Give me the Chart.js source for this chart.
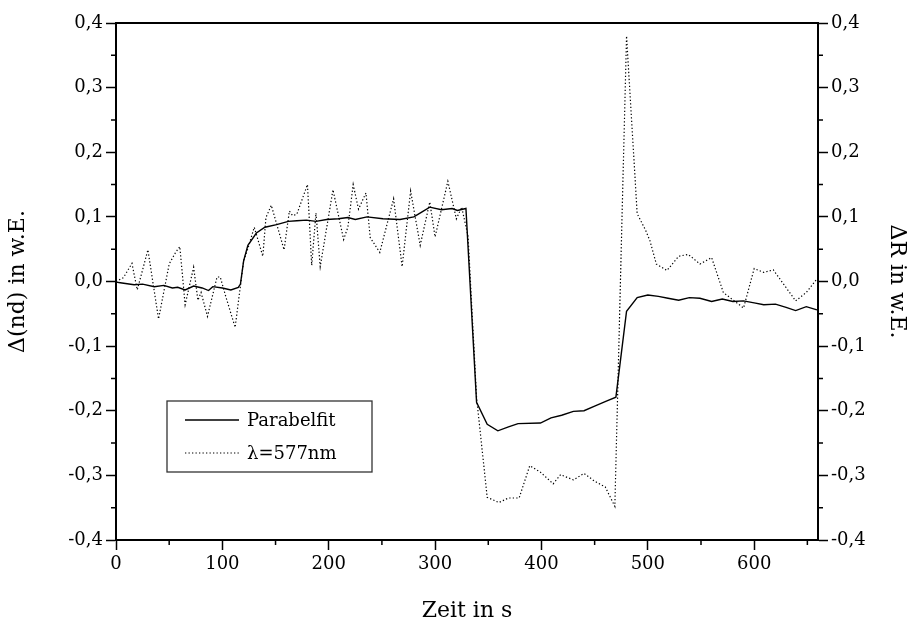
<!DOCTYPE html>
<html>
<head>
<meta charset="utf-8">
<script src="https://cdn.jsdelivr.net/npm/chart.js@4/dist/chart.umd.min.js"></script>
<style>
  html, body { margin: 0; padding: 0; background: #fff; }
  #wrap { width: 916px; height: 628px; }
</style>
</head>
<body>
<div id="wrap"><canvas id="chart" width="916" height="628"></canvas></div>
<script>
// Parabelfit (left axis)
const fitTime = [0,4,17,25,36,45,53,58,65,73,81,87,91,100,108,115,117,120,124,132,140,151,162,170,179,188,198,209,218,225,236,251,267,280,287,295,306,316,321,329,339,349,359,369,378,399,409,419,430,440,450,461,470,480,490,500,510,519,529,539,549,560,570,580,590,600,609,620,630,639,649,659];
const fitValues = [-0.001,-0.002,-0.005,-0.004,-0.008,-0.006,-0.010,-0.009,-0.013,-0.007,-0.010,-0.014,-0.008,-0.010,-0.013,-0.009,-0.004,0.032,0.056,0.075,0.084,0.088,0.093,0.094,0.095,0.093,0.096,0.097,0.099,0.096,0.100,0.097,0.096,0.100,0.107,0.115,0.111,0.113,0.110,0.113,-0.187,-0.221,-0.231,-0.225,-0.220,-0.219,-0.211,-0.207,-0.201,-0.200,-0.193,-0.185,-0.179,-0.046,-0.025,-0.021,-0.023,-0.026,-0.029,-0.025,-0.026,-0.031,-0.027,-0.031,-0.030,-0.033,-0.036,-0.035,-0.040,-0.045,-0.039,-0.044];

// λ=577nm (right axis)
const lambdaTime = [0,7,15,20,30,40,50,56,60,65,73,77,80,86,95,98,103,112,120,124,130,138,141,146,158,163,166,170,180,184,188,192,204,214,218,223,228,235,239,248,261,269,277,286,295,300,312,320,325,331,339,349,360,369,379,389,399,411,418,430,440,450,460,469,480,490,498,502,508,518,529,538,549,560,571,590,600,609,618,639,649,659];
const lambdaValues = [0.000,0.006,0.028,-0.013,0.049,-0.058,0.027,0.045,0.054,-0.036,0.022,-0.029,-0.017,-0.054,0.007,0.007,-0.022,-0.071,0.032,0.051,0.084,0.039,0.099,0.118,0.049,0.109,0.102,0.104,0.150,0.025,0.106,0.023,0.142,0.065,0.084,0.150,0.112,0.137,0.068,0.045,0.128,0.023,0.140,0.056,0.123,0.069,0.155,0.097,0.115,0.070,-0.180,-0.334,-0.342,-0.335,-0.335,-0.285,-0.295,-0.313,-0.299,-0.307,-0.297,-0.309,-0.318,-0.348,0.380,0.105,0.079,0.063,0.027,0.017,0.039,0.042,0.027,0.037,-0.017,-0.041,0.020,0.014,0.018,-0.030,-0.017,0.004];

const xTicks = [0,100,200,300,400,500,600];
const yTicks = [-0.4,-0.3,-0.2,-0.1,0,0.1,0.2,0.3,0.4];
const seriesNames = ['Parabelfit', 'λ=577nm'];

const FONT = '"DejaVu Serif", "Liberation Serif", serif';
const fmt = v => v.toFixed(1).replace('.', ',');

// minor ticks, top border and the boxed legend
const decor = {
  id: 'decor',
  afterDraw(chart) {
    const ctx = chart.ctx;
    const a = chart.chartArea;
    const x = chart.scales.x, y = chart.scales.y;
    ctx.save();
    ctx.strokeStyle = '#000';
    ctx.lineWidth = 2;
    ctx.beginPath();
    ctx.moveTo(a.left - 1, a.top);
    ctx.lineTo(a.right + 1, a.top);
    ctx.stroke();

    ctx.lineWidth = 1.5;
    ctx.beginPath();
    for (let v = 50; v < 660; v += 100) {
      const px = x.getPixelForValue(v);
      ctx.moveTo(px, a.bottom);
      ctx.lineTo(px, a.bottom + 5);
    }
    for (let v = -0.35; v < 0.4; v += 0.1) {
      const py = y.getPixelForValue(v);
      ctx.moveTo(a.left, py);
      ctx.lineTo(a.left - 5, py);
      ctx.moveTo(a.right, py);
      ctx.lineTo(a.right + 5, py);
    }
    ctx.stroke();

    // legend
    const lx = 167, ly = 401, lw = 205, lh = 71;
    ctx.lineWidth = 1.3;
    ctx.strokeStyle = '#333';
    ctx.strokeRect(lx, ly, lw, lh);
    ctx.strokeStyle = '#000';
    ctx.lineWidth = 1.3;
    ctx.beginPath();
    ctx.moveTo(185, 420); ctx.lineTo(239, 420);
    ctx.stroke();
    ctx.setLineDash([1.3, 2.2]);
    ctx.lineWidth = 1.1;
    ctx.beginPath();
    ctx.moveTo(185, 453); ctx.lineTo(239, 453);
    ctx.stroke();
    ctx.setLineDash([]);
    ctx.fillStyle = '#000';
    ctx.font = '18px ' + FONT;
    ctx.textBaseline = 'middle';
    ctx.textAlign = 'left';
    ctx.fillText(seriesNames[0], 247, 421);
    ctx.fillText(seriesNames[1], 247, 454);
    ctx.restore();
  }
};

const tickFont = { family: FONT, size: 18 };
const titleFont = { family: FONT, size: 22 };

new Chart(document.getElementById('chart'), {
  type: 'line',
  data: {
    datasets: [{
      label: seriesNames[0],
      data: fitTime.map((t, i) => ({ x: t, y: fitValues[i] })),
      yAxisID: 'y',
      borderColor: '#000',
      borderWidth: 1.4,
      pointRadius: 0,
      tension: 0,
      fill: false
    }, {
      label: seriesNames[1],
      data: lambdaTime.map((t, i) => ({ x: t, y: lambdaValues[i] })),
      yAxisID: 'y2',
      borderColor: '#000',
      borderWidth: 1.2,
      borderDash: [1.3, 2.2],
      pointRadius: 0,
      tension: 0,
      fill: false
    }]
  },
  options: {
    responsive: false,
    animation: false,
    layout: { padding: { top: 23, left: 0, right: 0, bottom: 0 } },
    plugins: { legend: { display: false }, tooltip: { enabled: false } },
    scales: {
      x: {
        type: 'linear',
        min: 0, max: 660,
        afterBuildTicks: s => { s.ticks = xTicks.map(v => ({ value: v })); },
        afterFit: s => { s.height = 88; },
        grid: { drawOnChartArea: false, tickLength: 10, tickWidth: 1.5, color: '#000' },
        border: { display: true, color: '#000', width: 2 },
        ticks: { color: '#000', font: tickFont, padding: 4, maxRotation: 0 },
        title: { display: true, text: 'Zeit in s', color: '#000', font: titleFont, padding: { top: 0, bottom: 4 } }
      },
      y: {
        position: 'left',
        min: -0.4, max: 0.4,
        afterBuildTicks: s => { s.ticks = yTicks.map(v => ({ value: v })); },
        afterFit: s => { s.width = 116; },
        grid: { drawOnChartArea: false, tickLength: 10, tickWidth: 1.5, color: '#000' },
        border: { display: true, color: '#000', width: 2 },
        ticks: { color: '#000', font: tickFont, padding: 3, callback: fmt },
        title: { display: true, text: 'Δ(nd) in w.E.', color: '#000', font: titleFont, padding: { top: 5, bottom: 0 } }
      },
      y2: {
        position: 'right',
        min: -0.4, max: 0.4,
        afterBuildTicks: s => { s.ticks = yTicks.map(v => ({ value: v })); },
        afterFit: s => { s.width = 98; },
        grid: { drawOnChartArea: false, tickLength: 10, tickWidth: 1.5, color: '#000' },
        border: { display: true, color: '#000', width: 2 },
        ticks: { color: '#000', font: tickFont, padding: 3, callback: fmt },
        title: { display: true, text: 'ΔR in w.E.', color: '#000', font: titleFont, padding: { top: 6, bottom: 0 } }
      }
    }
  },
  plugins: [decor]
});
</script>
</body>
</html>
